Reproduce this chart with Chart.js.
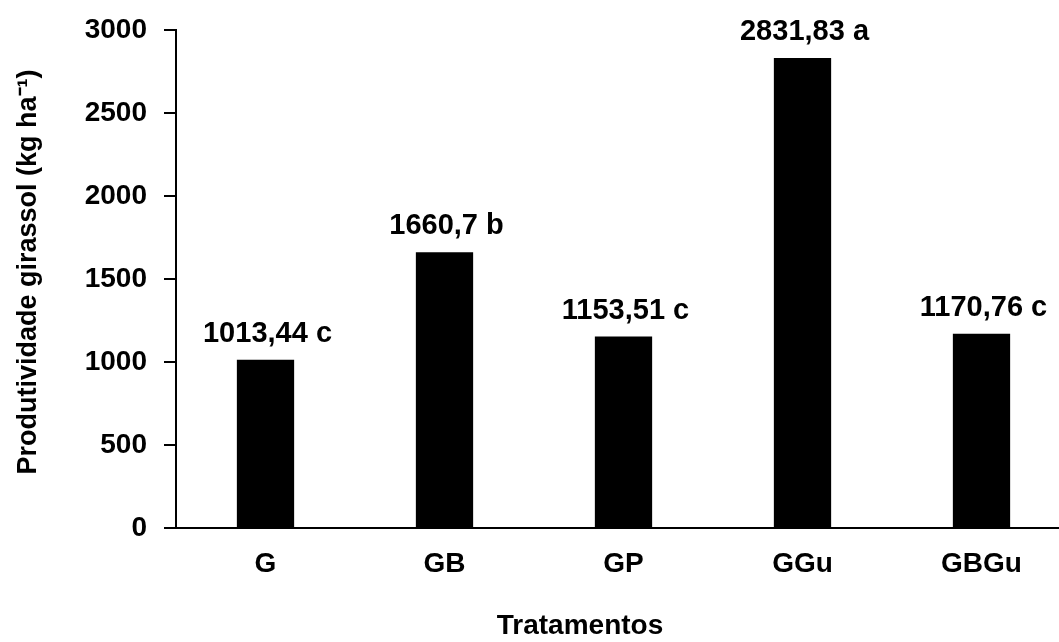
<!DOCTYPE html>
<html>
<head>
<meta charset="utf-8">
<script src="https://cdn.jsdelivr.net/npm/chart.js@4.4.1/dist/chart.umd.min.js"></script>
<style>
  html, body { margin: 0; padding: 0; background: #fff; overflow: hidden; }
  #wrap { width: 1080px; height: 642px; }
</style>
</head>
<body>
<div id="wrap"><canvas id="grafico" width="1080" height="642"></canvas></div>
<script>
// dados do grafico
const tratamentos = ['G', 'GB', 'GP', 'GGu', 'GBGu'];
const produtividade = [1013.44, 1660.7, 1153.51, 2831.83, 1170.76];
const letras = ['c', 'b', 'c', 'a', 'c'];
const rotulos = ['1013,44 c', '1660,7 b', '1153,51 c', '2831,83 a', '1170,76 c'];
const ticksY = [0, 500, 1000, 1500, 2000, 2500, 3000];

const fonte = 'Liberation Sans, Arial, sans-serif';

// rotulos das barras e titulos dos eixos
const rotulosPlugin = {
    id: 'rotulos',
    afterDatasetsDraw(chart) {
        const ctx = chart.ctx;
        const meta = chart.getDatasetMeta(0);
        ctx.save();
        ctx.fillStyle = '#000';
        ctx.font = 'bold 29px ' + fonte;
        ctx.textAlign = 'center';
        ctx.textBaseline = 'alphabetic';
        meta.data.forEach((bar, i) => {
            ctx.fillText(rotulos[i], bar.x + 2, bar.y - 18);
        });

        // titulo eixo x
        ctx.font = 'bold 28px ' + fonte;
        ctx.textBaseline = 'middle';
        ctx.fillText('Tratamentos', 580, 626);

        // titulo eixo y
        ctx.font = 'bold 27px ' + fonte;
        ctx.translate(29, 272);
        ctx.rotate(-Math.PI / 2);
        ctx.fillText('Produtividade girassol (kg ha\u207B\u00B9)', 0, 0);
        ctx.restore();
    }
};

const ctx = document.getElementById('grafico').getContext('2d');
const grafico = new Chart(ctx, {
    type: 'bar',
    data: {
        labels: tratamentos,
        datasets: [{
            data: produtividade,
            backgroundColor: '#000',
            borderWidth: 0,
            barPercentage: 0.32,
            categoryPercentage: 1
        }]
    },
    options: {
        responsive: false,
        animation: false,
        devicePixelRatio: 1,
        layout: { padding: { top: 30, left: 0, right: 9, bottom: 0 } },
        plugins: {
            legend: { display: false },
            tooltip: { enabled: false }
        },
        scales: {
            x: {
                grid: { display: false },
                border: { display: true, color: '#000', width: 2 },
                ticks: {
                    color: '#000',
                    font: { family: fonte, size: 28, weight: 'bold' },
                    padding: 11
                },
                afterFit(scale) { scale.height = 114; }
            },
            y: {
                min: 0,
                max: 3000,
                afterBuildTicks(scale) { scale.ticks = ticksY.map(v => ({ value: v })); },
                grid: {
                    drawOnChartArea: false,
                    drawTicks: true,
                    tickLength: 12,
                    color: '#000',
                    lineWidth: 2
                },
                border: { display: true, color: '#000', width: 2 },
                ticks: {
                    color: '#000',
                    font: { family: fonte, size: 28, weight: 'bold' },
                    padding: 17,
                    callback: v => String(v)
                },
                afterFit(scale) {
                    scale.width = 176;
                    scale.paddingTop = 0;
                    scale.paddingBottom = 0;
                }
            }
        }
    },
    plugins: [rotulosPlugin]
});
</script>
</body>
</html>
